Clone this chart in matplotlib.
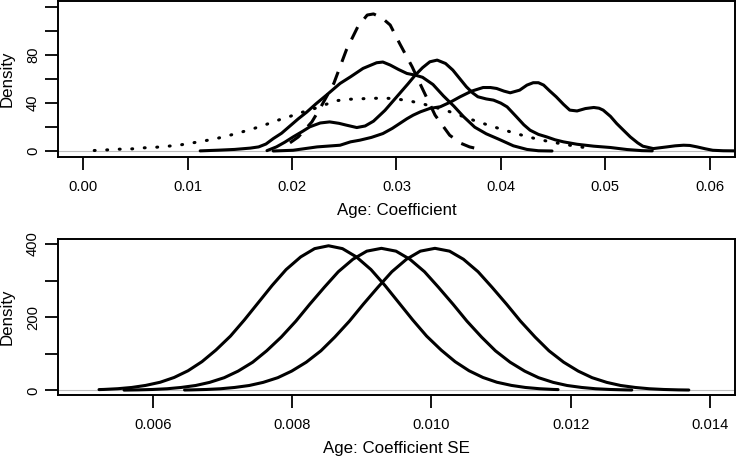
import matplotlib
matplotlib.use('Agg')
import matplotlib.pyplot as plt

plt.rcParams['font.family'] = ['Liberation Sans', 'DejaVu Sans']

# ---------------- data: top panel (Age: Coefficient densities) ----------------
dashed_x = [0.0198, 0.0206, 0.0219, 0.0228, 0.0240, 0.0252, 0.0263, 0.0272, 0.0278,
            0.0286, 0.0294, 0.0303, 0.0315, 0.0324, 0.0337, 0.0351, 0.0362, 0.0370, 0.0377]
dashed_y = [7.0, 11.9, 24.4, 37.5, 56.4, 84.2, 103.6, 113.3, 114.2,
            111.0, 105.0, 89.7, 70.3, 53.6, 30.0, 13.3, 6.5, 3.6, 2.2]

dotted_x = [0.00105, 0.00224, 0.00342, 0.00457, 0.00575, 0.00694, 0.00814, 0.00933,
            0.01044, 0.01159, 0.01278, 0.01396, 0.01511, 0.01623, 0.01741, 0.01846,
            0.01958, 0.02076, 0.0219, 0.0231, 0.0242, 0.0254, 0.0265, 0.0277, 0.0289,
            0.0300, 0.0312, 0.0324, 0.0335, 0.03465, 0.0358, 0.03688, 0.0380, 0.03912,
            0.0403, 0.04145, 0.0426, 0.04368, 0.0449, 0.04605, 0.0473, 0.0485]
dotted_y = [0.6, 1.1, 1.7, 1.9, 2.8, 3.3, 4.2, 5.3,
            6.9, 8.6, 10.6, 13.1, 15.8, 18.6, 21.9, 25.3,
            28.3, 31.9, 34.7, 38.5, 42.0, 43.2, 43.6, 44.0, 44.2,
            43.5, 41.9, 39.7, 37.0, 34.2, 30.8, 27.2, 24.0, 20.8,
            17.7, 14.7, 12.0, 9.7, 7.6, 5.8, 4.0, 2.5]

solidA_x = [0.0112, 0.0130, 0.0145, 0.0160, 0.0168, 0.0175, 0.0182, 0.0190, 0.0198,
            0.0206, 0.0214, 0.0223, 0.0233, 0.0246, 0.0256, 0.0268, 0.0281, 0.0287,
            0.0294, 0.0302, 0.0310, 0.0318, 0.0325, 0.0335, 0.0345, 0.0355, 0.0364,
            0.0375, 0.0386, 0.0398, 0.0412, 0.0425, 0.0436, 0.0449]
solidA_y = [0.3, 0.9, 1.5, 2.6, 3.6, 6.0, 10.5, 15.0, 21.0,
            27.0, 32.5, 39.5, 46.7, 56.4, 61.9, 68.9, 73.6, 74.2,
            71.7, 68.0, 64.7, 63.3, 61.5, 55.5, 46.0, 37.5, 29.0,
            20.0, 14.5, 10.0, 4.5, 1.5, 0.4, 0.2]

solidB_x = [0.0176, 0.0185, 0.0193, 0.0201, 0.0210, 0.0217, 0.0227, 0.0236, 0.0245,
            0.0252, 0.0262, 0.0270, 0.0278, 0.0289, 0.0297, 0.0303, 0.0311, 0.0318,
            0.0325, 0.0332, 0.0339, 0.0347, 0.0354, 0.0361, 0.0367, 0.0373, 0.0378,
            0.0386, 0.0393, 0.0400, 0.0406, 0.0415, 0.0422, 0.0428, 0.0436, 0.0444,
            0.0452, 0.0460, 0.0473, 0.0489, 0.0505, 0.0521, 0.0535, 0.0545]
solidB_y = [0.5, 3.6, 7.5, 11.9, 16.5, 20.3, 23.5, 24.4, 23.2,
            21.7, 19.7, 21.0, 25.0, 34.0, 42.0, 48.0, 56.0, 63.3,
            69.5, 74.4, 75.8, 73.0, 67.5, 60.0, 53.6, 48.5, 45.3,
            43.5, 42.5, 40.0, 36.9, 28.6, 22.0, 17.5, 14.0, 11.9,
            9.5, 7.8, 5.8, 4.2, 3.1, 1.4, 0.5, 0.3]

solidC_x = [0.0182, 0.0201, 0.0224, 0.0246, 0.0256, 0.0265, 0.0276, 0.0287, 0.0296,
            0.0303, 0.0310, 0.0316, 0.0323, 0.0332, 0.0342, 0.0352, 0.0361, 0.0372,
            0.0383, 0.0390, 0.0396, 0.0403, 0.0409, 0.0418, 0.0425, 0.0431, 0.0436,
            0.0441, 0.0447, 0.0453, 0.0460, 0.0466, 0.0473, 0.0481, 0.0489, 0.0494,
            0.0498, 0.0505, 0.0511, 0.0518, 0.0524, 0.0531, 0.0536, 0.0546, 0.0559,
            0.0567, 0.0575, 0.0581, 0.0588, 0.0596, 0.0603, 0.0613, 0.0625]
solidC_y = [0.2, 0.8, 3.6, 5.0, 7.8, 9.2, 11.5, 14.7, 19.0,
            23.0, 27.0, 30.0, 32.8, 35.6, 37.0, 41.0, 45.3, 50.0,
            53.0, 53.0, 52.2, 50.0, 48.6, 50.8, 55.0, 57.0, 57.0,
            55.0, 50.0, 45.3, 39.0, 34.2, 33.5, 35.5, 36.4, 35.8,
            34.2, 29.0, 23.0, 17.0, 11.9, 7.0, 4.2, 2.2, 3.6,
            4.5, 5.0, 4.8, 3.6, 2.0, 0.8, 0.4, 0.3]

# ---------------- data: bottom panel (Age: Coefficient SE densities) ----------------
se1_x = [0.00522, 0.00529, 0.00549, 0.00569, 0.00589, 0.00610, 0.00630, 0.00650, 0.00670,
         0.00690, 0.00711, 0.00731, 0.00751, 0.00771, 0.00791, 0.00812, 0.00832, 0.00852,
         0.00872, 0.00892, 0.00913, 0.00933, 0.00953, 0.00973, 0.00993, 0.01014, 0.01034,
         0.01054, 0.01074, 0.01094, 0.01115, 0.01135, 0.01155, 0.01175, 0.01182]
se1_y = [2.0, 2.4, 4.4, 7.8, 13.4, 22.1, 35.1, 53.5, 78.3,
         109.9, 148.2, 192.4, 239.6, 286.8, 330.0, 364.6, 387.2, 395.0,
         387.2, 364.6, 330.0, 286.8, 239.6, 192.4, 148.2, 109.9, 78.3,
         53.5, 35.1, 22.1, 13.4, 7.8, 4.4, 2.4, 2.0]

se2_x = [0.00558, 0.00578, 0.00599, 0.00620, 0.00640, 0.00661, 0.00681, 0.00702, 0.00722,
         0.00743, 0.00763, 0.00784, 0.00805, 0.00825, 0.00846, 0.00866, 0.00887, 0.00907,
         0.00928, 0.00949, 0.00969, 0.00990, 0.01010, 0.01031, 0.01051, 0.01072, 0.01092,
         0.01113, 0.01134, 0.01154, 0.01175, 0.01195, 0.01216, 0.01236, 0.01257, 0.01278,
         0.01288]
se2_y = [0.6, 1.2, 2.3, 4.3, 7.8, 13.2, 21.7, 34.5, 52.5,
         76.9, 107.9, 145.5, 189.0, 235.3, 281.7, 324.0, 358.1, 380.3,
         388.0, 380.3, 358.1, 324.0, 281.7, 235.3, 189.0, 145.5, 107.9,
         76.9, 52.5, 34.5, 21.7, 13.2, 7.8, 4.3, 2.3, 1.2,
         0.8]

se3_x = [0.00645, 0.00655, 0.00676, 0.00697, 0.00717, 0.00738, 0.00758, 0.00779, 0.00799,
         0.00820, 0.00841, 0.00861, 0.00882, 0.00902, 0.00923, 0.00943, 0.00964, 0.00984,
         0.01005, 0.01026, 0.01046, 0.01067, 0.01087, 0.01108, 0.01128, 0.01149, 0.01169,
         0.01190, 0.01211, 0.01231, 0.01252, 0.01272, 0.01293, 0.01313, 0.01334, 0.01355,
         0.01370]
se3_y = [0.85, 1.2, 2.3, 4.3, 7.8, 13.2, 21.7, 34.5, 52.5,
         76.9, 107.9, 145.5, 189.0, 235.3, 281.7, 324.0, 358.1, 380.3,
         388.0, 380.3, 358.1, 324.0, 281.7, 235.3, 189.0, 145.5, 107.9,
         76.9, 52.5, 34.5, 21.7, 13.2, 7.8, 4.3, 2.3, 1.2,
         0.8]

top_xticks = [0.00, 0.01, 0.02, 0.03, 0.04, 0.05, 0.06]
top_xticklabels = ["0.00", "0.01", "0.02", "0.03", "0.04", "0.05", "0.06"]
top_yticks = [0, 20, 40, 60, 80, 100, 120]
top_yticklabels = ["0", "", "40", "", "80", "", ""]
bot_xticks = [0.006, 0.008, 0.010, 0.012, 0.014]
bot_xticklabels = ["0.006", "0.008", "0.010", "0.012", "0.014"]
bot_yticks = [0, 100, 200, 300, 400]
bot_yticklabels = ["0", "", "200", "", "400"]

# ---------------- figure ----------------
W, H = 736, 459
fig = plt.figure(figsize=(W / 100, H / 100), dpi=100)
L, R = 58, 734.7
ax1 = fig.add_axes([L / W, 1 - 157 / H, (R - L) / W, (157 - 1.2) / H])
ax2 = fig.add_axes([L / W, 1 - 395 / H, (R - L) / W, (395 - 239) / H])

LW = 2.2
tick_fs = 10.6
lab_fs = 12.2


def style(ax, xt, xtl, yt, ytl, xlabel):
    ax.axhline(0, color='#bebebe', lw=0.8, zorder=0)
    for s in ax.spines.values():
        s.set_linewidth(1.4)
        s.set_color('black')
    ax.set_xticks(xt)
    ax.set_xticklabels(xtl)
    ax.set_yticks(yt)
    ax.set_yticklabels(ytl, rotation=90, va='center')
    ax.tick_params(axis='both', direction='out', length=9.4, width=1.3,
                   labelsize=tick_fs, colors='black')
    ax.tick_params(axis='x', pad=7.4)
    ax.tick_params(axis='y', pad=3.6)
    ax.set_xlabel(xlabel, fontsize=lab_fs)
    ax.set_ylabel("Density", fontsize=lab_fs)
    ax.xaxis.label.set_va('center')
    ax.yaxis.label.set_va('center')
    h_px = ax.get_position().height * H
    w_px = ax.get_position().width * W
    ax.xaxis.set_label_coords(0.5, -53 / h_px)
    ax.yaxis.set_label_coords(-50.7 / w_px, 0.5)


kw = dict(color='black', lw=LW, solid_capstyle='round', solid_joinstyle='round')
ax1.plot(solidA_x, solidA_y, **kw)
ax1.plot(solidB_x, solidB_y, **kw)
ax1.plot(solidC_x, solidC_y, **kw)
ax1.plot(dashed_x, dashed_y, color='black', lw=LW, linestyle=(0, (4.5, 3.5)),
         dash_capstyle='butt')
ax1.plot(dotted_x, dotted_y, color='black', lw=LW, linestyle=(0, (0.3, 3.8)),
         dash_capstyle='round')
ax1.set_xlim(-0.00242, 0.0624)
ax1.set_ylim(-4.8, 124.8)
style(ax1, top_xticks, top_xticklabels, top_yticks, top_yticklabels, "Age: Coefficient")

ax2.plot(se1_x, se1_y, **kw)
ax2.plot(se2_x, se2_y, **kw)
ax2.plot(se3_x, se3_y, **kw)
ax2.set_xlim(0.00463, 0.01436)
ax2.set_ylim(-12.8, 413.5)
style(ax2, bot_xticks, bot_xticklabels, bot_yticks, bot_yticklabels, "Age: Coefficient SE")

fig.savefig("out.png", dpi=100)
